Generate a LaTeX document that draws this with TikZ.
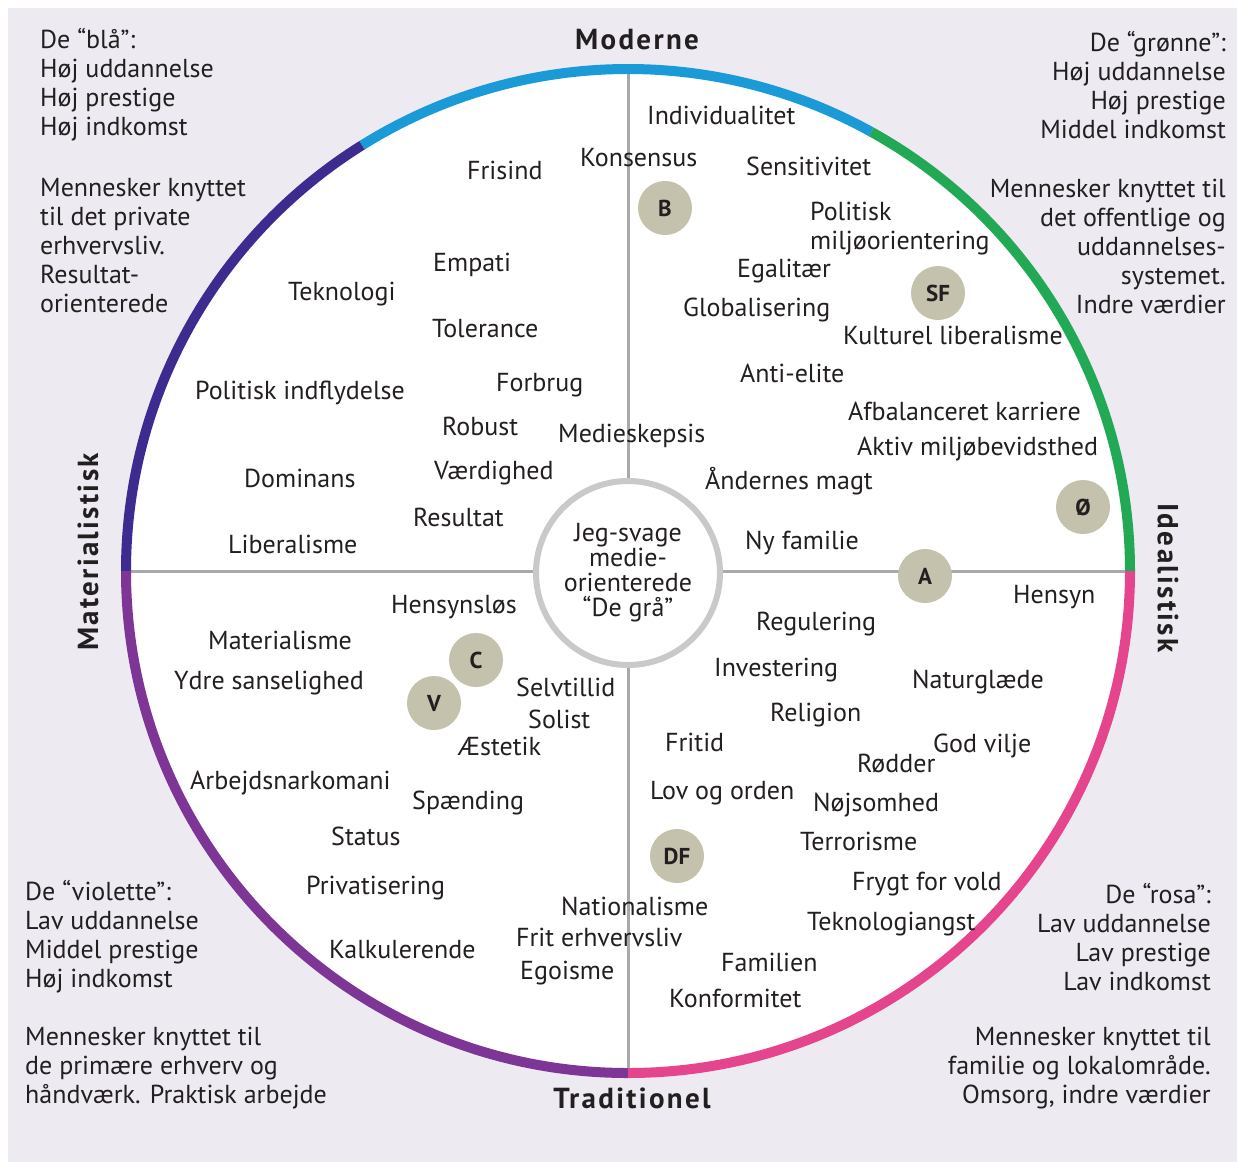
\documentclass[tikz,border=0pt]{standalone}
\usepackage{fontspec}
\setmainfont{PT Sans}
\definecolor{bg}{HTML}{EEEAF2}
\definecolor{cblue}{HTML}{1A9BD7}
\definecolor{cindigo}{HTML}{3D2B8F}
\definecolor{cviolet}{HTML}{7D3696}
\definecolor{cpink}{HTML}{E5458D}
\definecolor{cgreen}{HTML}{22A956}
\definecolor{badgefill}{HTML}{C4C1AC}
\definecolor{axisgray}{HTML}{A9A9A9}
\definecolor{ringgray}{HTML}{C9C9CB}
\definecolor{txt}{HTML}{231F20}
\begin{document}
\begin{tikzpicture}[x=1pt,y=1pt,
  every node/.style={text=txt, font=\fontsize{26}{29}\selectfont},
  wl/.style={anchor=west, text height=18pt, text depth=0pt, inner sep=0pt},
  blockl/.style={anchor=west, align=left, inner sep=0pt},
  blockr/.style={anchor=east, align=right, inner sep=0pt},
  axistitle/.style={font=\bfseries\fontsize{29}{32}\selectfont\addfontfeatures{LetterSpace=8}, inner sep=0pt},
  party/.style={circle, fill=badgefill, minimum size=54pt, inner sep=0pt, font=\bfseries\fontsize{23}{23}\selectfont},
  rim/.style={line width=10pt},
  axisline/.style={draw=axisgray, line width=3pt}
]
\useasboundingbox (0,0) rectangle (1237,-1162);
\fill[bg] (8,-8) rectangle (1237,-1162);
\coordinate (O) at (628,-571);
\fill[white] (O) circle (502);
\coordinate (W) at (126,-571);
\coordinate (E) at (1130,-571);
\coordinate (N) at (628,-69);
\coordinate (S) at (628,-1073);
\draw[axisline] (W) -- (E);
\draw[axisline] (N) -- (S);
% rim arcs
\draw[rim, cblue]   (O) ++(61:502)  arc[start angle=61,  end angle=122, radius=502];
\draw[rim, cindigo] (O) ++(122:502) arc[start angle=122, end angle=180, radius=502];
\draw[rim, cviolet] (O) ++(180:502) arc[start angle=180, end angle=270, radius=502];
\draw[rim, cpink]   (O) ++(270:502) arc[start angle=270, end angle=360, radius=502];
\draw[rim, cgreen]  (O) ++(0:502)   arc[start angle=0,   end angle=61,  radius=502];
% core
\node[circle, draw=ringgray, line width=6pt, fill=white, minimum size=184pt, inner sep=0pt, align=center, font=\fontsize{26}{25}\selectfont] (core) at (628,-573) {Jeg-svage\\medie-\\orienterede\\“De grå”};
% axis titles
\node[axistitle] (tmod) at (637,-40) {Moderne};
\node[axistitle] (ttrad) at (632,-1098) {Traditionel};
\node[axistitle, rotate=90] (tmat) at (88,-552) {Materialistisk};
\node[axistitle, rotate=-90] (tide) at (1168,-578) {Idealistisk};
% corner blocks
\node[blockl] (tl1) at (40,-85) {De “blå”:\\Høj uddannelse\\Høj prestige\\Høj indkomst};
\node[blockl] (tl2) at (40,-246) {Mennesker knyttet\\til det private\\erhvervsliv.\\Resultat-\\orienterede};
\node[blockr] (tr1) at (1226,-85) {De “grønne”:\\Høj uddannelse\\Høj prestige\\Middel indkomst};
\node[blockr] (tr2) at (1226,-246) {Mennesker knyttet til\\det offentlige og\\uddannelses-\\systemet.\\Indre værdier};
\node[blockl] (bl1) at (25,-937) {De “violette”:\\Lav uddannelse\\Middel prestige\\Høj indkomst};
\node[blockl] (bl2) at (25,-1068) {Mennesker knyttet til\\de primære erhverv og\\håndværk. Praktisk arbejde};
\node[blockr] (br1) at (1211,-937) {De “rosa”:\\Lav uddannelse\\Lav prestige\\Lav indkomst};
\node[blockr] (br2) at (1211,-1068) {Mennesker knyttet til\\familie og lokalområde.\\Omsorg, indre værdier};
% top-right quadrant
\node[wl] (w1) at (647,-115) {Individualitet};
\node[wl] (w2) at (580,-157) {Konsensus};
\node[wl] (w3) at (746,-166) {Sensitivitet};
\node[blockl] (w4) at (810,-229) {Politisk\\miljøorientering};
\node[wl] (w5) at (737,-268) {Egalitær};
\node[wl] (w6) at (683,-307) {Globalisering};
\node[wl] (w7) at (843,-335) {Kulturel liberalisme};
\node[wl] (w8) at (740,-373) {Anti-elite};
\node[wl] (w9) at (848,-411) {Afbalanceret karriere};
\node[wl] (w10) at (857,-446) {Aktiv miljøbevidsthed};
\node[wl] (w11) at (705,-480) {Åndernes magt};
\node[wl] (w12) at (745,-540) {Ny familie};
\node[wl] (w13) at (558,-433) {Medieskepsis};
% top-left quadrant
\node[wl] (w14) at (467,-170) {Frisind};
\node[wl] (w15) at (433,-262) {Empati};
\node[wl] (w16) at (288,-291) {Teknologi};
\node[wl] (w17) at (432,-328) {Tolerance};
\node[wl] (w18) at (195,-390) {Politisk indflydelse};
\node[wl] (w19) at (496,-382) {Forbrug};
\node[wl] (w20) at (442,-426) {Robust};
\node[wl] (w21) at (434,-470) {Værdighed};
\node[wl] (w22) at (244,-478) {Dominans};
\node[wl] (w23) at (413,-517) {Resultat};
\node[wl] (w24) at (228,-544) {Liberalisme};
% bottom-left quadrant
\node[wl] (w25) at (391,-604) {Hensynsløs};
\node[wl] (w26) at (208,-640) {Materialisme};
\node[wl] (w27) at (174,-680) {Ydre sanselighed};
\node[wl] (w28) at (516,-687) {Selvtillid};
\node[wl] (w29) at (528,-719) {Solist};
\node[wl] (w30) at (458,-746) {Æstetik};
\node[wl] (w31) at (190,-780) {Arbejdsnarkomani};
\node[wl] (w32) at (412,-800) {Spænding};
\node[wl] (w33) at (331,-836) {Status};
\node[wl] (w34) at (306,-885) {Privatisering};
\node[wl] (w35) at (329,-949) {Kalkulerende};
\node[wl] (w36) at (561,-906) {Nationalisme};
\node[wl] (w37) at (516,-937) {Frit erhvervsliv};
\node[wl] (w38) at (520,-970) {Egoisme};
% bottom-right quadrant
\node[wl] (w39) at (1013,-594) {Hensyn};
\node[wl] (w40) at (756,-621) {Regulering};
\node[wl] (w41) at (714,-667) {Investering};
\node[wl] (w42) at (912,-679) {Naturglæde};
\node[wl] (w43) at (770,-712) {Religion};
\node[wl] (w44) at (665,-742) {Fritid};
\node[wl] (w45) at (933,-743) {God vilje};
\node[wl] (w46) at (857,-763) {Rødder};
\node[wl] (w47) at (650,-790) {Lov og orden};
\node[wl] (w48) at (813,-802) {Nøjsomhed};
\node[wl] (w49) at (800,-841) {Terrorisme};
\node[wl] (w50) at (852,-881) {Frygt for vold};
\node[wl] (w51) at (807,-921) {Teknologiangst};
\node[wl] (w52) at (721,-962) {Familien};
\node[wl] (w53) at (669,-998) {Konformitet};
% party badges
\node[party] (pB) at (665,-208) {B};
\node[party] (pSF) at (938,-293) {SF};
\node[party] (pOE) at (1083,-507) {Ø};
\node[party] (pA) at (925,-576) {A};
\node[party] (pC) at (476,-660) {C};
\node[party] (pV) at (434,-703) {V};
\node[party] (pDF) at (677,-856) {DF};
\end{tikzpicture}
\end{document}
